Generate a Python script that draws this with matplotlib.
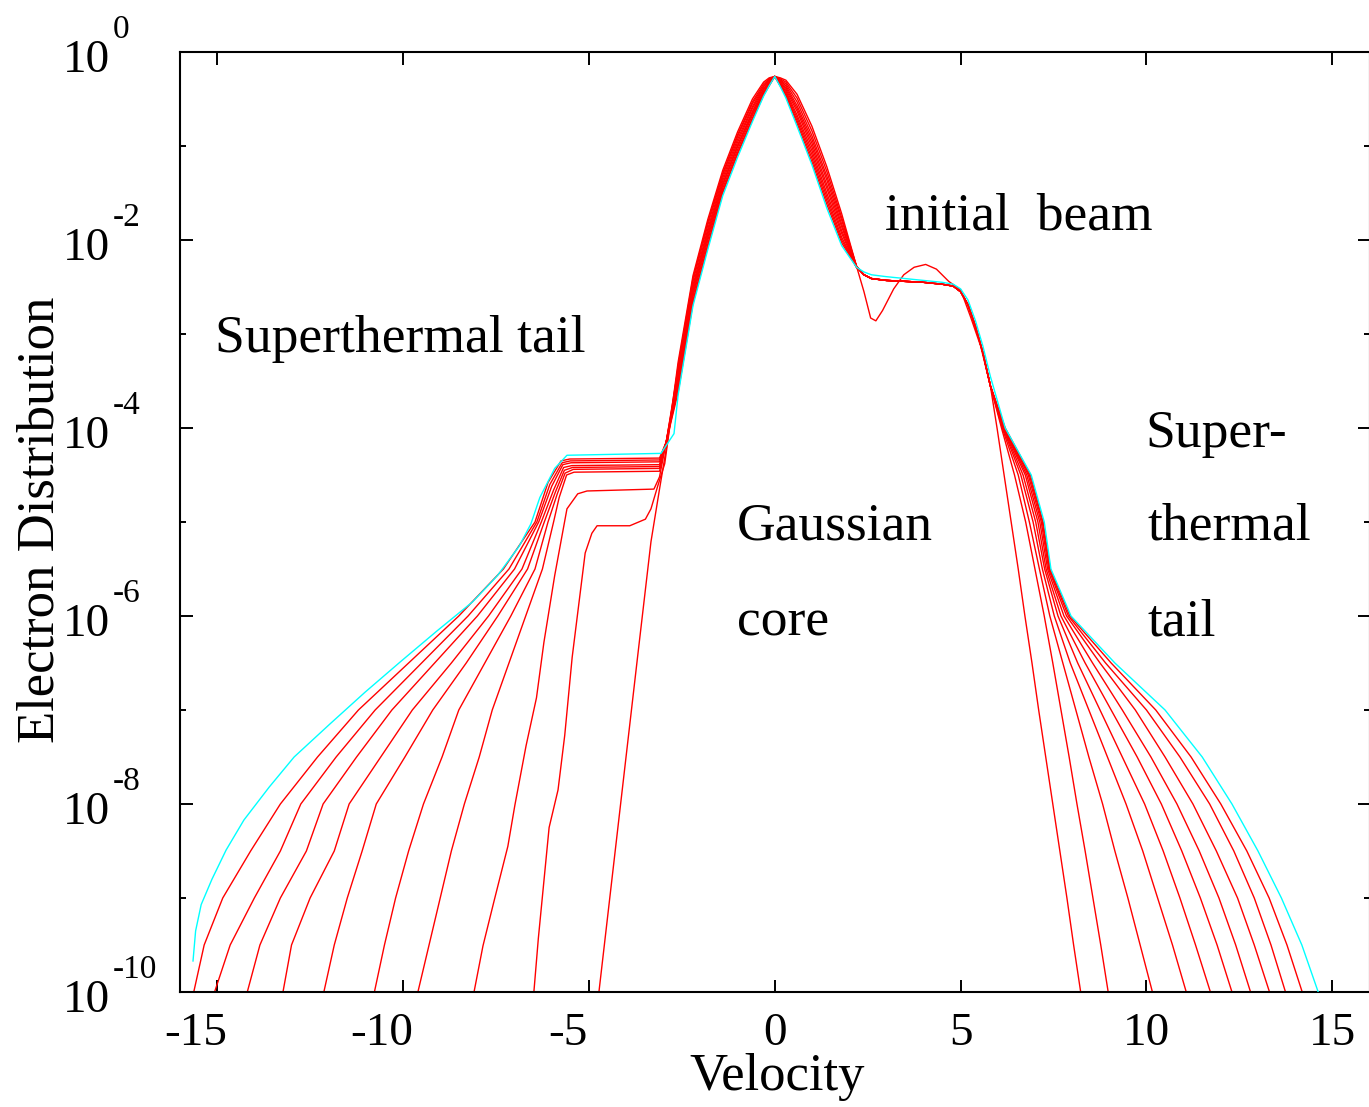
import numpy as np
import matplotlib
matplotlib.use('Agg')
import matplotlib.pyplot as plt
from matplotlib import transforms

plt.rcParams['font.family'] = ['Liberation Serif', 'DejaVu Serif']
plt.rcParams['axes.unicode_minus'] = False

# ---- data (velocity, log10 of distribution) ----
# curve 0 = initial, 1..9 = intermediate times, 10 = final (cyan)

# left tail + plateau, per curve
left_v = [
    [-4.73, -4.38, -4.03, -3.68, -3.33, -3.10, -2.88],
    [-6.48, -6.36, -6.07, -5.83, -5.65, -5.45, -5.10, -4.92, -4.78, -3.90, -3.48, -3.33, -3.15, -2.96],
    [-8.09, -7.85, -7.55, -7.18, -6.99, -6.69, -6.41, -6.21, -5.92, -5.59, -5.30, -5.05, -3.25, -3.10, -2.92],
    [-9.60, -9.30, -9.00, -8.70, -8.35, -7.95, -7.60, -7.15, -6.70, -6.25, -5.95, -5.80, -5.60, -5.40, -3.10, -2.92],
    [-10.77, -10.50, -10.20, -9.85, -9.45, -8.95, -8.50, -7.80, -7.10, -6.45, -6.10, -5.85, -5.64, -5.42, -3.10, -2.92],
    [-12.13, -11.85, -11.50, -11.10, -10.72, -9.95, -9.20, -8.30, -7.45, -6.65, -6.20, -5.90, -5.66, -5.44, -3.10, -2.92],
    [-13.23, -13.00, -12.50, -11.85, -11.45, -10.60, -9.75, -8.70, -7.70, -6.80, -6.28, -5.95, -5.68, -5.46, -3.10, -2.92],
    [-14.19, -13.85, -13.30, -12.60, -12.15, -11.25, -10.30, -9.15, -8.00, -7.00, -6.35, -6.00, -5.70, -5.48, -3.10, -2.92],
    [-15.07, -14.65, -14.00, -13.30, -12.75, -11.80, -10.75, -9.50, -8.25, -7.15, -6.40, -6.05, -5.72, -5.50, -3.10, -2.92],
    [-15.63, -15.35, -14.85, -14.10, -13.30, -12.30, -11.20, -9.85, -8.50, -7.30, -6.45, -6.10, -5.75, -5.52, -3.10, -2.92],
    [-15.65, -15.58, -15.43, -15.14, -14.76, -14.28, -13.60, -12.93, -11.97, -11.02, -10.05, -9.09,
     -8.13, -7.46, -6.88, -6.56, -6.32, -5.92, -5.59, -3.06, -2.71],
]
left_L = [
    [-10.0, -8.8, -7.6, -6.4, -5.21, -4.65, -4.13],
    [-10.0, -9.43, -8.25, -7.85, -7.27, -6.44, -5.33, -5.12, -5.04, -5.04, -4.97, -4.86, -4.62, -4.38],
    [-10.0, -9.51, -9.03, -8.45, -8.01, -7.38, -6.87, -6.28, -5.57, -4.86, -4.70, -4.67, -4.65, -4.52, -4.15],
    [-10.0, -9.5, -9.0, -8.5, -8.0, -7.5, -7.0, -6.5, -6.0, -5.5, -5.0, -4.74, -4.50, -4.47, -4.46, -4.15],
    [-10.0, -9.5, -9.0, -8.5, -8.0, -7.5, -7.0, -6.5, -6.0, -5.5, -5.0, -4.70, -4.48, -4.44, -4.43, -4.15],
    [-10.0, -9.5, -9.0, -8.5, -8.0, -7.5, -7.0, -6.5, -6.0, -5.5, -5.0, -4.68, -4.45, -4.42, -4.41, -4.15],
    [-10.0, -9.5, -9.0, -8.5, -8.0, -7.5, -7.0, -6.5, -6.0, -5.5, -5.0, -4.66, -4.42, -4.40, -4.39, -4.15],
    [-10.0, -9.5, -9.0, -8.5, -8.0, -7.5, -7.0, -6.5, -6.0, -5.5, -5.0, -4.62, -4.39, -4.37, -4.36, -4.15],
    [-10.0, -9.5, -9.0, -8.5, -8.0, -7.5, -7.0, -6.5, -6.0, -5.5, -5.0, -4.60, -4.37, -4.35, -4.34, -4.15],
    [-10.0, -9.5, -9.0, -8.5, -8.0, -7.5, -7.0, -6.5, -6.0, -5.5, -5.0, -4.58, -4.35, -4.33, -4.32, -4.15],
    [-9.67, -9.35, -9.07, -8.80, -8.49, -8.17, -7.82, -7.50, -7.15, -6.81, -6.48, -6.16,
     -5.85, -5.57, -5.26, -5.02, -4.74, -4.43, -4.29, -4.27, -4.06],
]

# Gaussian core
v_core = [-2.6, -2.2, -1.8, -1.4, -1.0, -0.6, -0.3, -0.15, 0.0, 0.15, 0.3, 0.6, 1.0, 1.4, 1.8, 2.2]
core_L = [
    [-3.30, -2.38, -1.78, -1.26, -0.85, -0.50, -0.32, -0.275, -0.26, -0.275, -0.30, -0.45, -0.79, -1.22, -1.72, -2.28],
    [-3.34, -2.41, -1.81, -1.29, -0.88, -0.53, -0.34, -0.285, -0.26, -0.285, -0.32, -0.49, -0.84, -1.27, -1.76, -2.28],
    [-3.37, -2.44, -1.84, -1.31, -0.90, -0.55, -0.36, -0.295, -0.26, -0.295, -0.34, -0.53, -0.89, -1.32, -1.79, -2.28],
    [-3.41, -2.48, -1.88, -1.34, -0.93, -0.58, -0.37, -0.305, -0.26, -0.305, -0.36, -0.57, -0.93, -1.36, -1.83, -2.28],
    [-3.44, -2.51, -1.91, -1.37, -0.96, -0.60, -0.39, -0.315, -0.26, -0.315, -0.38, -0.60, -0.97, -1.41, -1.86, -2.28],
    [-3.48, -2.54, -1.94, -1.40, -0.99, -0.63, -0.40, -0.325, -0.26, -0.325, -0.40, -0.63, -1.01, -1.45, -1.90, -2.28],
    [-3.51, -2.57, -1.97, -1.42, -1.01, -0.65, -0.42, -0.335, -0.26, -0.34, -0.42, -0.67, -1.05, -1.50, -1.93, -2.29],
    [-3.55, -2.60, -2.00, -1.45, -1.04, -0.67, -0.43, -0.34, -0.26, -0.35, -0.44, -0.70, -1.09, -1.54, -1.97, -2.29],
    [-3.58, -2.64, -2.04, -1.48, -1.07, -0.70, -0.44, -0.35, -0.26, -0.36, -0.46, -0.73, -1.13, -1.58, -2.00, -2.29],
    [-3.62, -2.67, -2.07, -1.50, -1.09, -0.72, -0.46, -0.36, -0.26, -0.36, -0.47, -0.76, -1.17, -1.62, -2.03, -2.29],
    [-3.65, -2.70, -2.10, -1.53, -1.12, -0.74, -0.47, -0.36, -0.26, -0.37, -0.49, -0.79, -1.20, -1.66, -2.06, -2.29],
]

# beam region
v_beam_init = [2.4, 2.58, 2.72, 2.9, 3.2, 3.47, 3.75, 4.06, 4.35, 4.68, 5.0, 5.27, 5.54, 5.8]
beam_init = [-2.55, -2.83, -2.86, -2.75, -2.52, -2.37, -2.29, -2.26, -2.31, -2.44, -2.53, -2.82, -3.13, -3.55]
v_beam = [2.4, 2.6, 3.0, 3.5, 4.0, 4.5, 4.8, 5.0, 5.2, 5.4, 5.6, 5.8]
beam_mid = [-2.37, -2.41, -2.43, -2.44, -2.45, -2.47, -2.49, -2.55, -2.69, -2.92, -3.20, -3.55]
beam_final = [-2.34, -2.37, -2.39, -2.41, -2.43, -2.45, -2.47, -2.52, -2.64, -2.86, -3.13, -3.45]

# right tail: velocity at given log10 levels
levels_right = [-4.0, -4.5, -5.0, -5.5, -6.0, -6.5, -7.0, -7.5, -8.0, -8.5, -9.0, -9.5, -10.0]
right_v = [
    [5.98, 6.17, 6.36, 6.55, 6.73, 6.92, 7.10, 7.29, 7.48, 7.67, 7.86, 8.04, 8.23],
    [6.10, 6.45, 6.75, 7.00, 7.25, 7.48, 7.70, 7.92, 8.13, 8.35, 8.56, 8.77, 8.97],
    [6.12, 6.55, 6.85, 7.12, 7.40, 7.75, 8.10, 8.45, 8.82, 9.15, 9.50, 9.83, 10.16],
    [6.14, 6.62, 6.95, 7.20, 7.52, 7.95, 8.45, 8.95, 9.45, 9.90, 10.30, 10.70, 11.07],
    [6.15, 6.68, 7.02, 7.26, 7.62, 8.15, 8.75, 9.35, 9.95, 10.45, 10.90, 11.32, 11.72],
    [6.16, 6.74, 7.08, 7.30, 7.70, 8.35, 9.05, 9.75, 10.40, 10.95, 11.45, 11.90, 12.30],
    [6.17, 6.78, 7.13, 7.34, 7.78, 8.55, 9.35, 10.12, 10.82, 11.42, 11.95, 12.40, 12.80],
    [6.18, 6.82, 7.17, 7.37, 7.85, 8.75, 9.70, 10.50, 11.25, 11.88, 12.45, 12.90, 13.31],
    [6.19, 6.85, 7.20, 7.39, 7.90, 8.90, 10.00, 10.90, 11.70, 12.35, 12.90, 13.35, 13.74],
    [6.20, 6.88, 7.22, 7.41, 7.94, 9.05, 10.25, 11.20, 12.00, 12.70, 13.30, 13.78, 14.19],
    [6.20, 6.90, 7.25, 7.43, 7.97, 9.15, 10.50, 11.50, 12.30, 13.00, 13.63, 14.18, 14.62],
]

x_ticks = [-15, -10, -5, 0, 5, 10, 15]
x_tick_text = ['-15', '-10', '-5', '0', '5', '10', '15']
y_exps = [0, -2, -4, -6, -8, -10]
y_minor_exps = [-1, -3, -5, -7, -9]

W, H = 1369, 1107
fig = plt.figure(figsize=(W / 100, H / 100), dpi=100)
ax = fig.add_axes([180 / W, 1 - 992 / H, (1369.5 - 180) / W, (992 - 52) / H])

n = len(left_v)
for i in range(n):
    if i == 0:
        bv, bl = v_beam_init, beam_init
    elif i == n - 1:
        bv, bl = v_beam, beam_final
    else:
        bv, bl = v_beam, beam_mid
    v = np.concatenate([left_v[i], v_core, bv, right_v[i]])
    L = np.concatenate([left_L[i], core_L[i], bl, levels_right])
    col = '#00ffff' if i == n - 1 else '#ff0000'
    ax.plot(v, 10.0 ** L, color=col, lw=1.0, zorder=3 if i == n - 1 else 2)

ax.set_xlim(-16, 16)
ax.set_yscale('log')
ax.set_ylim(1e-10, 1)
ax.set_xticks(x_ticks)
ax.set_yticks([10.0 ** e for e in y_exps])
ax.set_yticks([10.0 ** e for e in y_minor_exps], minor=True)
ax.xaxis.set_minor_locator(matplotlib.ticker.NullLocator())
ax.yaxis.set_minor_formatter(matplotlib.ticker.NullFormatter())
ax.tick_params(axis='both', which='both', direction='in', width=1.4,
               top=True, right=True, labelbottom=False, labelleft=False)
ax.tick_params(which='major', length=9)
ax.tick_params(axis='y', which='minor', length=4.5)
for s in ax.spines.values():
    s.set_linewidth(1.5)

fs = 34
# y tick labels: "10" plus raised exponent
ty = transforms.blended_transform_factory(fig.transFigure, ax.transData)
for e in y_exps:
    base = transforms.offset_copy(ty, fig=fig, x=0, y=-20, units='dots')
    sup = transforms.offset_copy(ty, fig=fig, x=0, y=14, units='dots')
    fig.text(110 / W, 10.0 ** e, '10', transform=base, ha='right', va='baseline', fontsize=fs)
    fig.text(113 / W, 10.0 ** e, str(e), transform=sup, ha='left', va='baseline', fontsize=24)

# x tick labels (negative ones sit a little to the left, as in the original)
tx = transforms.blended_transform_factory(ax.transData, fig.transFigure)
for xv, s in zip(x_ticks, x_tick_text):
    dx = -21 if xv < 0 else 0
    tr = transforms.offset_copy(tx, fig=fig, x=dx, y=0, units='dots')
    fig.text(xv, 1 - 1045 / H, s, transform=tr, ha='center', va='baseline', fontsize=fs)

fig.text(777 / W, 1 - 1090 / H, 'Velocity', ha='center', va='baseline', fontsize=38)
fig.text(41 / W, 1 - 520 / H, 'Electron Distribution', rotation=90,
         ha='center', va='center', fontsize=38)

fa = 38.5
fig.text(885 / W, 1 - 230 / H, 'initial  beam', ha='left', va='baseline', fontsize=fa)
fig.text(215 / W, 1 - 352 / H, 'Superthermal tail', ha='left', va='baseline', fontsize=fa)
fig.text(737 / W, 1 - 540 / H, 'Gaussian', ha='left', va='baseline', fontsize=fa)
fig.text(737 / W, 1 - 635 / H, 'core', ha='left', va='baseline', fontsize=fa)
fig.text(1145 / W, 1 - 447 / H, 'Super-', ha='left', va='baseline', fontsize=fa)
fig.text(1148 / W, 1 - 540 / H, 'thermal', ha='left', va='baseline', fontsize=fa)
fig.text(1148 / W, 1 - 635 / H, 'tail', ha='left', va='baseline', fontsize=fa)

fig.savefig('out.png', dpi=100)
